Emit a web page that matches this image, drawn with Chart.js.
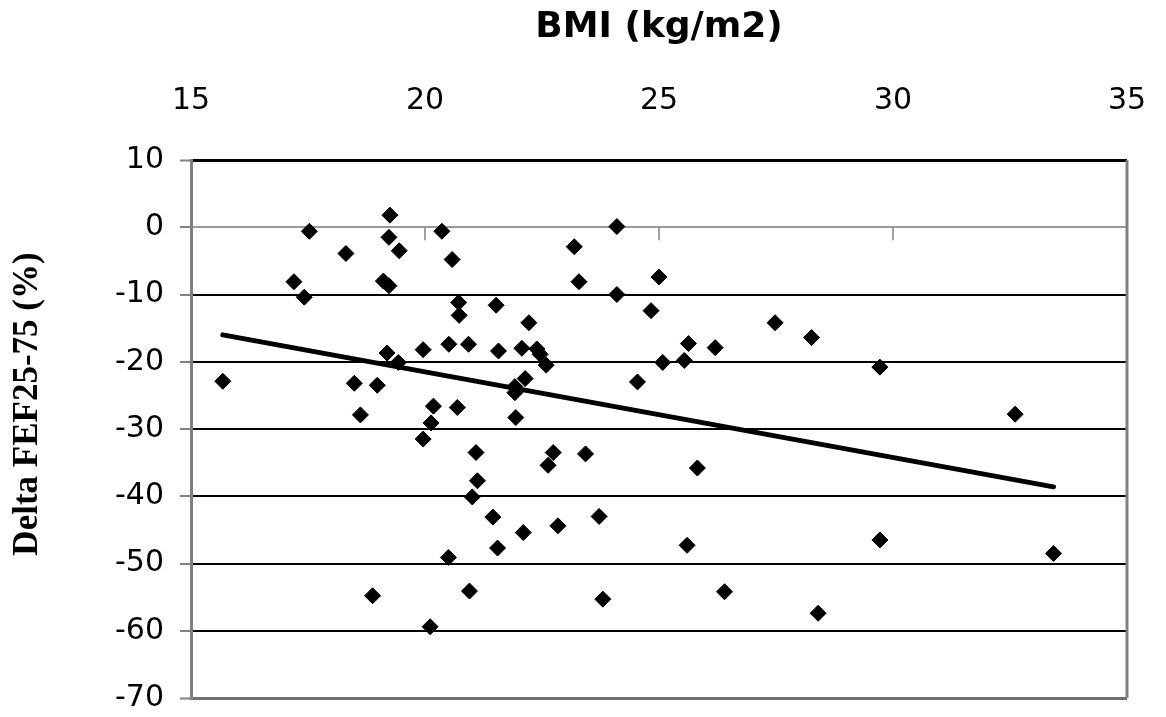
<!DOCTYPE html>
<html>
<head>
<meta charset="utf-8">
<title>BMI vs Delta FEF25-75</title>
<script src="https://cdn.jsdelivr.net/npm/chart.js@4/dist/chart.umd.min.js"></script>
<style>
    html, body { margin: 0; padding: 0; background: #fff; }
    #wrap { width: 1166px; height: 717px; position: relative; }
</style>
</head>
<body>
<div id="wrap"><canvas id="bmiChart"></canvas></div>
<script>
// --- Data ---
const bmi = [
    15.68, 17.53, 17.20, 17.42, 18.31, 19.25, 19.23, 19.45, 19.11, 19.23,
    20.36, 20.58, 20.72, 20.73, 20.51, 20.93, 19.96, 19.19, 19.43, 18.49,
    18.98, 18.62, 20.18, 20.69, 20.13, 19.96, 21.09, 21.12, 21.01, 20.50,
    18.88, 20.95, 20.11, 21.52, 22.22, 21.57, 22.07, 22.39, 22.46, 22.59,
    22.14, 21.92, 21.92, 21.94, 23.19, 23.29, 24.10, 24.10, 25.00, 24.83,
    25.63, 26.20, 25.08, 25.54, 24.54, 21.45, 21.55, 22.10, 22.84, 23.72,
    22.74, 22.63, 23.43, 25.82, 25.60, 23.80, 26.40, 27.48, 28.26, 29.72,
    32.61, 29.72, 33.43, 28.40
];
const deltaFef = [
    -22.9, -0.6, -8.1, -10.4, -3.9, 1.8, -1.5, -3.5, -8.0, -8.7,
    -0.6, -4.8, -11.2, -13.1, -17.4, -17.4, -18.2, -18.7, -20.1, -23.2,
    -23.5, -27.9, -26.6, -26.8, -29.1, -31.5, -33.5, -37.7, -40.1, -49.1,
    -54.8, -54.1, -59.4, -11.6, -14.2, -18.4, -18.0, -18.1, -18.9, -20.5,
    -22.5, -23.7, -24.6, -28.3, -2.9, -8.1, 0.1, -10.0, -7.4, -12.4,
    -17.3, -17.9, -20.1, -19.8, -23.0, -43.1, -47.7, -45.4, -44.4, -43.0,
    -33.5, -35.4, -33.7, -35.8, -47.3, -55.3, -54.2, -14.2, -16.4, -20.8,
    -27.8, -46.5, -48.5, -57.4
];
// trend line end points
const trendBmi = [15.68, 33.43];
const trendDelta = [-16.0, -38.6];

const xTickValues = [15, 20, 25, 30, 35];
const yTickValues = [10, 0, -10, -20, -30, -40, -50, -60, -70];

const xTitle = 'BMI (kg/m2)';
const yTitle = 'Delta FEF25-75 (%)';

document.addEventListener('DOMContentLoaded', () => {
    const tickFont = { family: '"DejaVu Sans", Verdana, sans-serif', size: 30 };

    // --- Extra axis decoration: right border, x ticks on the zero line, y title ---
    const frame = {
        id: 'frame',
        beforeDatasetsDraw(chart) {
            const { ctx, chartArea, scales } = chart;
            const y0 = scales.y.getPixelForValue(0);
            ctx.save();
            ctx.strokeStyle = '#808080';
            ctx.lineWidth = 3;
            ctx.beginPath();
            ctx.moveTo(chartArea.right, chartArea.top);
            ctx.lineTo(chartArea.right, chartArea.bottom);
            ctx.stroke();
            ctx.lineWidth = 1.5;
            xTickValues.forEach(v => {
                const px = scales.x.getPixelForValue(v);
                ctx.beginPath();
                ctx.moveTo(px, y0);
                ctx.lineTo(px, y0 + 13);
                ctx.stroke();
            });
            ctx.restore();
        },
        afterDraw(chart) {
            const { ctx } = chart;
            ctx.save();
            ctx.translate(28, 404);
            ctx.rotate(-Math.PI / 2);
            ctx.font = 'bold 35px "Liberation Serif", "Times New Roman", serif';
            ctx.fillStyle = '#000';
            ctx.textAlign = 'center';
            ctx.textBaseline = 'middle';
            ctx.fillText(yTitle, 0, 0);
            ctx.restore();
        }
    };

    const gridColor = (c) => {
        const v = c.tick ? c.tick.value : null;
        if (v === 0) return '#9a9a9a';
        if (v === -70) return '#707070';
        return '#000';
    };

    new Chart(document.getElementById('bmiChart'), {
        type: 'scatter',
        data: {
            datasets: [{
                type: 'line',
                label: 'Trend',
                data: trendBmi.map((x, i) => ({ x, y: trendDelta[i] })),
                borderColor: '#000',
                borderWidth: 5,
                borderCapStyle: 'round',
                pointRadius: 0,
                fill: false,
                order: 0
            }, {
                label: 'Subjects',
                data: bmi.map((x, i) => ({ x, y: deltaFef[i] })),
                pointStyle: 'rectRot',
                pointRadius: 8,
                pointHoverRadius: 8,
                backgroundColor: '#000',
                borderColor: '#000',
                borderWidth: 1,
                order: 1
            }]
        },
        options: {
            responsive: true,
            maintainAspectRatio: false,
            animation: false,
            events: [],
            layout: { padding: { top: 0, left: 0, right: 39, bottom: 19 } },
            plugins: {
                legend: { display: false },
                tooltip: { enabled: false }
            },
            scales: {
                x: {
                    type: 'linear',
                    position: 'top',
                    min: xTickValues[0],
                    max: xTickValues[xTickValues.length - 1],
                    afterBuildTicks: (s) => { s.ticks = xTickValues.map(value => ({ value })); },
                    afterFit: (s) => {
                        s.height = 160;
                        s.paddingLeft = 0;
                        s.paddingRight = 0;
                    },
                    ticks: { font: tickFont, color: '#000', padding: 41 },
                    grid: { display: false, drawTicks: false },
                    border: { display: false },
                    title: {
                        display: true,
                        text: xTitle,
                        color: '#000',
                        font: { family: '"DejaVu Sans", Verdana, sans-serif', size: 36, weight: 'bold' },
                        padding: { top: 6, bottom: 0 }
                    }
                },
                y: {
                    type: 'linear',
                    min: -70,
                    max: 10,
                    afterBuildTicks: (s) => { s.ticks = yTickValues.map(value => ({ value })); },
                    afterFit: (s) => {
                        s.width = 191;
                        s.paddingTop = 0;
                        s.paddingBottom = 0;
                    },
                    ticks: { font: tickFont, color: '#000', padding: 16 },
                    grid: {
                        color: gridColor,
                        lineWidth: (c) => (c.tick && (c.tick.value === 10 || c.tick.value === -70)) ? 3 : 2,
                        drawTicks: true,
                        tickLength: 11,
                        tickColor: '#808080',
                        tickWidth: 2
                    },
                    border: { display: true, color: '#808080', width: 3 }
                }
            }
        },
        plugins: [frame]
    });
});
</script>
</body>
</html>
